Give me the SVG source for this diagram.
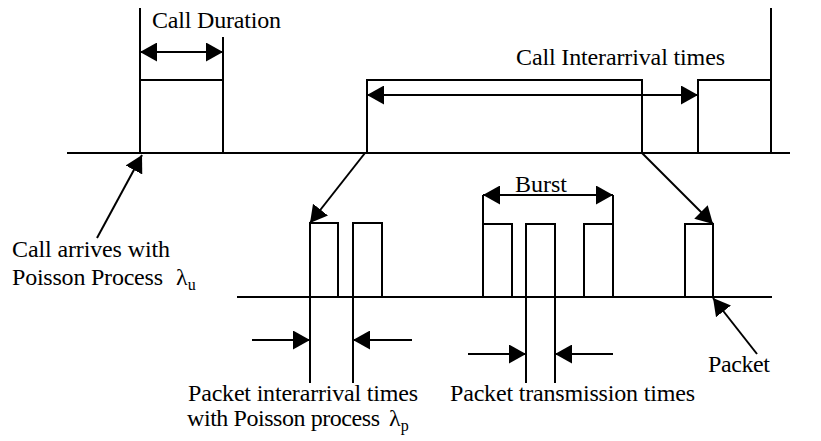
<svg xmlns="http://www.w3.org/2000/svg" width="821" height="441" viewBox="0 0 821 441">
<style>
.ln{stroke:#000;stroke-width:2;fill:none}
.t{font-family:"Liberation Serif","Times New Roman",serif;font-size:24px;fill:#000}
.s{font-family:"Liberation Serif","Times New Roman",serif;font-size:16px;fill:#000}
</style>
<defs>
<marker id="ah" viewBox="0 0 17 19" refX="17" refY="9.5" markerWidth="17" markerHeight="19" markerUnits="userSpaceOnUse" orient="auto-start-reverse">
<path d="M0,0 L17,9.5 L0,19 Z" fill="#000"/>
</marker>
</defs>
<rect width="821" height="441" fill="#fff"/>
<g id="timelines">
<line class="ln" x1="67" y1="153" x2="790" y2="153"/>
<line class="ln" x1="237" y1="297" x2="772" y2="297"/>
</g>
<g id="calls">
<path class="ln" d="M140,8 V153 M140,80 H223 V153 M223,37 V80"/>
<path class="ln" d="M367,153 V80 H642 V153"/>
<path class="ln" d="M698,153 V80 H771 V153 M771,8 V80"/>
</g>
<g id="packets">
<path class="ln" d="M310,297 V223 H338 V297"/>
<path class="ln" d="M353,297 V223 H382 V297"/>
<path class="ln" d="M483,297 V224 H512 V297"/>
<path class="ln" d="M526,297 V224 H555 V297"/>
<path class="ln" d="M584,297 V224 H613 V297"/>
<path class="ln" d="M685,297 V224 H713 V297"/>
<path class="ln" d="M483,224 V195 M613,224 V195"/>
<path class="ln" d="M310,297 V383 M353,297 V383 M526,297 V383 M555,297 V383"/>
</g>
<g id="connectors">
<line class="ln" x1="140" y1="52" x2="223" y2="52" marker-start="url(#ah)" marker-end="url(#ah)"/>
<line class="ln" x1="367" y1="95" x2="698" y2="95" marker-start="url(#ah)" marker-end="url(#ah)"/>
<line class="ln" x1="483" y1="195" x2="613" y2="195" marker-start="url(#ah)" marker-end="url(#ah)"/>
<line class="ln" x1="365" y1="153" x2="310" y2="223" marker-end="url(#ah)"/>
<line class="ln" x1="642" y1="153" x2="713" y2="224" marker-end="url(#ah)"/>
<line class="ln" x1="97" y1="238" x2="142" y2="155" marker-end="url(#ah)"/>
<line class="ln" x1="757" y1="354" x2="713" y2="298" marker-end="url(#ah)"/>
<line class="ln" x1="252" y1="340" x2="310" y2="340" marker-end="url(#ah)"/>
<line class="ln" x1="412" y1="340" x2="353" y2="340" marker-end="url(#ah)"/>
<line class="ln" x1="468" y1="354" x2="526" y2="354" marker-end="url(#ah)"/>
<line class="ln" x1="613" y1="354" x2="555" y2="354" marker-end="url(#ah)"/>
</g>
<g id="labels">
<text class="t" x="152" y="28" textLength="129" lengthAdjust="spacing">Call Duration</text>
<text class="t" x="516" y="65" textLength="209" lengthAdjust="spacing">Call Interarrival times</text>
<text class="t" x="515" y="192" textLength="52" lengthAdjust="spacing">Burst</text>
<text class="t" x="12" y="257" textLength="158" lengthAdjust="spacing">Call arrives with</text>
<text class="t" x="12" y="285" textLength="151" lengthAdjust="spacing">Poisson Process</text>
<text class="t" x="176" y="285">λ<tspan class="s" dy="5">u</tspan></text>
<text class="t" x="708" y="372" textLength="62" lengthAdjust="spacing">Packet</text>
<text class="t" x="188" y="401" textLength="230" lengthAdjust="spacing">Packet interarrival times</text>
<text class="t" x="187" y="426" textLength="193" lengthAdjust="spacing">with Poisson process</text>
<text class="t" x="389" y="426">λ<tspan class="s" dy="5">p</tspan></text>
<text class="t" x="450" y="401" textLength="245" lengthAdjust="spacing">Packet transmission times</text>
</g>
</svg>
